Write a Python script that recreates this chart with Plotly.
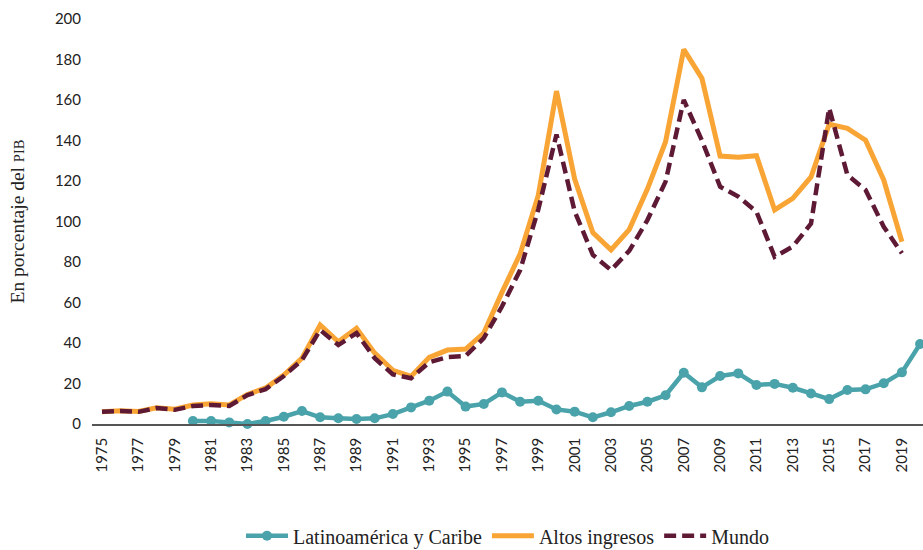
import plotly.graph_objects as go

lac_years = list(range(1980, 2021))
lac = [1.5, 1.5, 0.8, 0.0, 1.5, 3.6, 6.4, 3.3, 2.8, 2.5,
       2.8, 4.9, 8.2, 11.5, 16.0, 8.6, 9.9, 15.6, 11.0, 11.5,
       7.2, 6.1, 3.3, 5.8, 8.9, 11.0, 14.2, 25.3, 18.1, 23.7,
       25.0, 19.3, 19.8, 17.9, 15.1, 12.3, 16.8, 17.1, 20.1, 25.5,
       39.5]

hi_years = list(range(1975, 2020))
altos = [6.1, 6.6, 6.2, 8.0, 7.3, 9.4, 10.0, 9.4, 14.6, 17.8,
         24.2, 32.5, 48.9, 40.6, 47.3, 35.0, 26.5, 23.5, 32.9, 36.5,
         37.0, 44.9, 65.0, 84.0, 113.0, 164.4, 121.0, 94.5, 86.0, 96.0,
         116.0, 139.4, 185.0, 170.7, 132.3, 131.7, 132.5, 105.7, 111.4, 122.0,
         148.0, 146.0, 140.2, 120.5, 90.0]
mundo = [6.1, 6.4, 6.0, 7.9, 7.0, 8.9, 9.4, 8.9, 14.3, 17.2,
         23.7, 31.6, 46.4, 39.0, 44.9, 32.5, 24.5, 22.6, 30.5, 33.0,
         33.6, 42.4, 58.0, 76.0, 106.0, 143.0, 105.0, 83.5, 76.0, 85.5,
         100.7, 119.7, 160.0, 140.0, 117.2, 112.3, 104.8, 82.6, 87.6, 99.0,
         156.0, 123.0, 115.6, 97.4, 84.3]

tick_years = list(range(1975, 2020, 2))
y_ticks = list(range(0, 201, 20))

teal = "#4AA3AA"
orange = "#F8A535"
maroon = "#5E1A35"

fig = go.Figure()
fig.add_trace(go.Scatter(
    x=lac_years, y=lac, name="Latinoamérica y Caribe", mode="lines+markers",
    line=dict(color=teal, width=4.5), marker=dict(color=teal, size=10),
    cliponaxis=False))
fig.add_trace(go.Scatter(
    x=hi_years, y=altos, name="Altos ingresos", mode="lines",
    line=dict(color=orange, width=5)))
fig.add_trace(go.Scatter(
    x=hi_years, y=mundo, name="Mundo", mode="lines",
    line=dict(color=maroon, width=4.5, dash="12px,6px")))

fig.update_layout(
    width=923, height=550,
    margin=dict(l=92, r=0, t=19, b=126),
    paper_bgcolor="white", plot_bgcolor="white",
    showlegend=True,
    legend=dict(orientation="h", x=0.5, xanchor="center",
                yref="container", y=0.026, yanchor="middle",
                font=dict(family="Liberation Serif", size=20, color="#222"),
                itemwidth=42, tracegroupgap=0),
    xaxis=dict(range=[1974.45, 2020.16], tickvals=tick_years,
               ticktext=[str(y) for y in tick_years], tickangle=-90,
               showgrid=False, zeroline=False, showline=True,
               linecolor="#555", linewidth=1.5,
               tickfont=dict(family="Lato", size=15, color="#222"),
               ticklabelstandoff=6),
    yaxis=dict(range=[0, 200], tickvals=y_ticks, showgrid=False,
               zeroline=False, showline=False,
               tickfont=dict(family="Lato", size=15, color="#222"),
               ticklabelstandoff=10,
               title=dict(text="En porcentaje del <span style='font-size:14.5px'>PIB</span>",
                          font=dict(family="Liberation Serif", size=19.5, color="#222"),
                          standoff=25)),
)

fig.write_html(
    "out.html",
    config={"displayModeBar": False},
    post_script="document.body.style.margin='0';document.body.style.overflow='hidden';",
)
